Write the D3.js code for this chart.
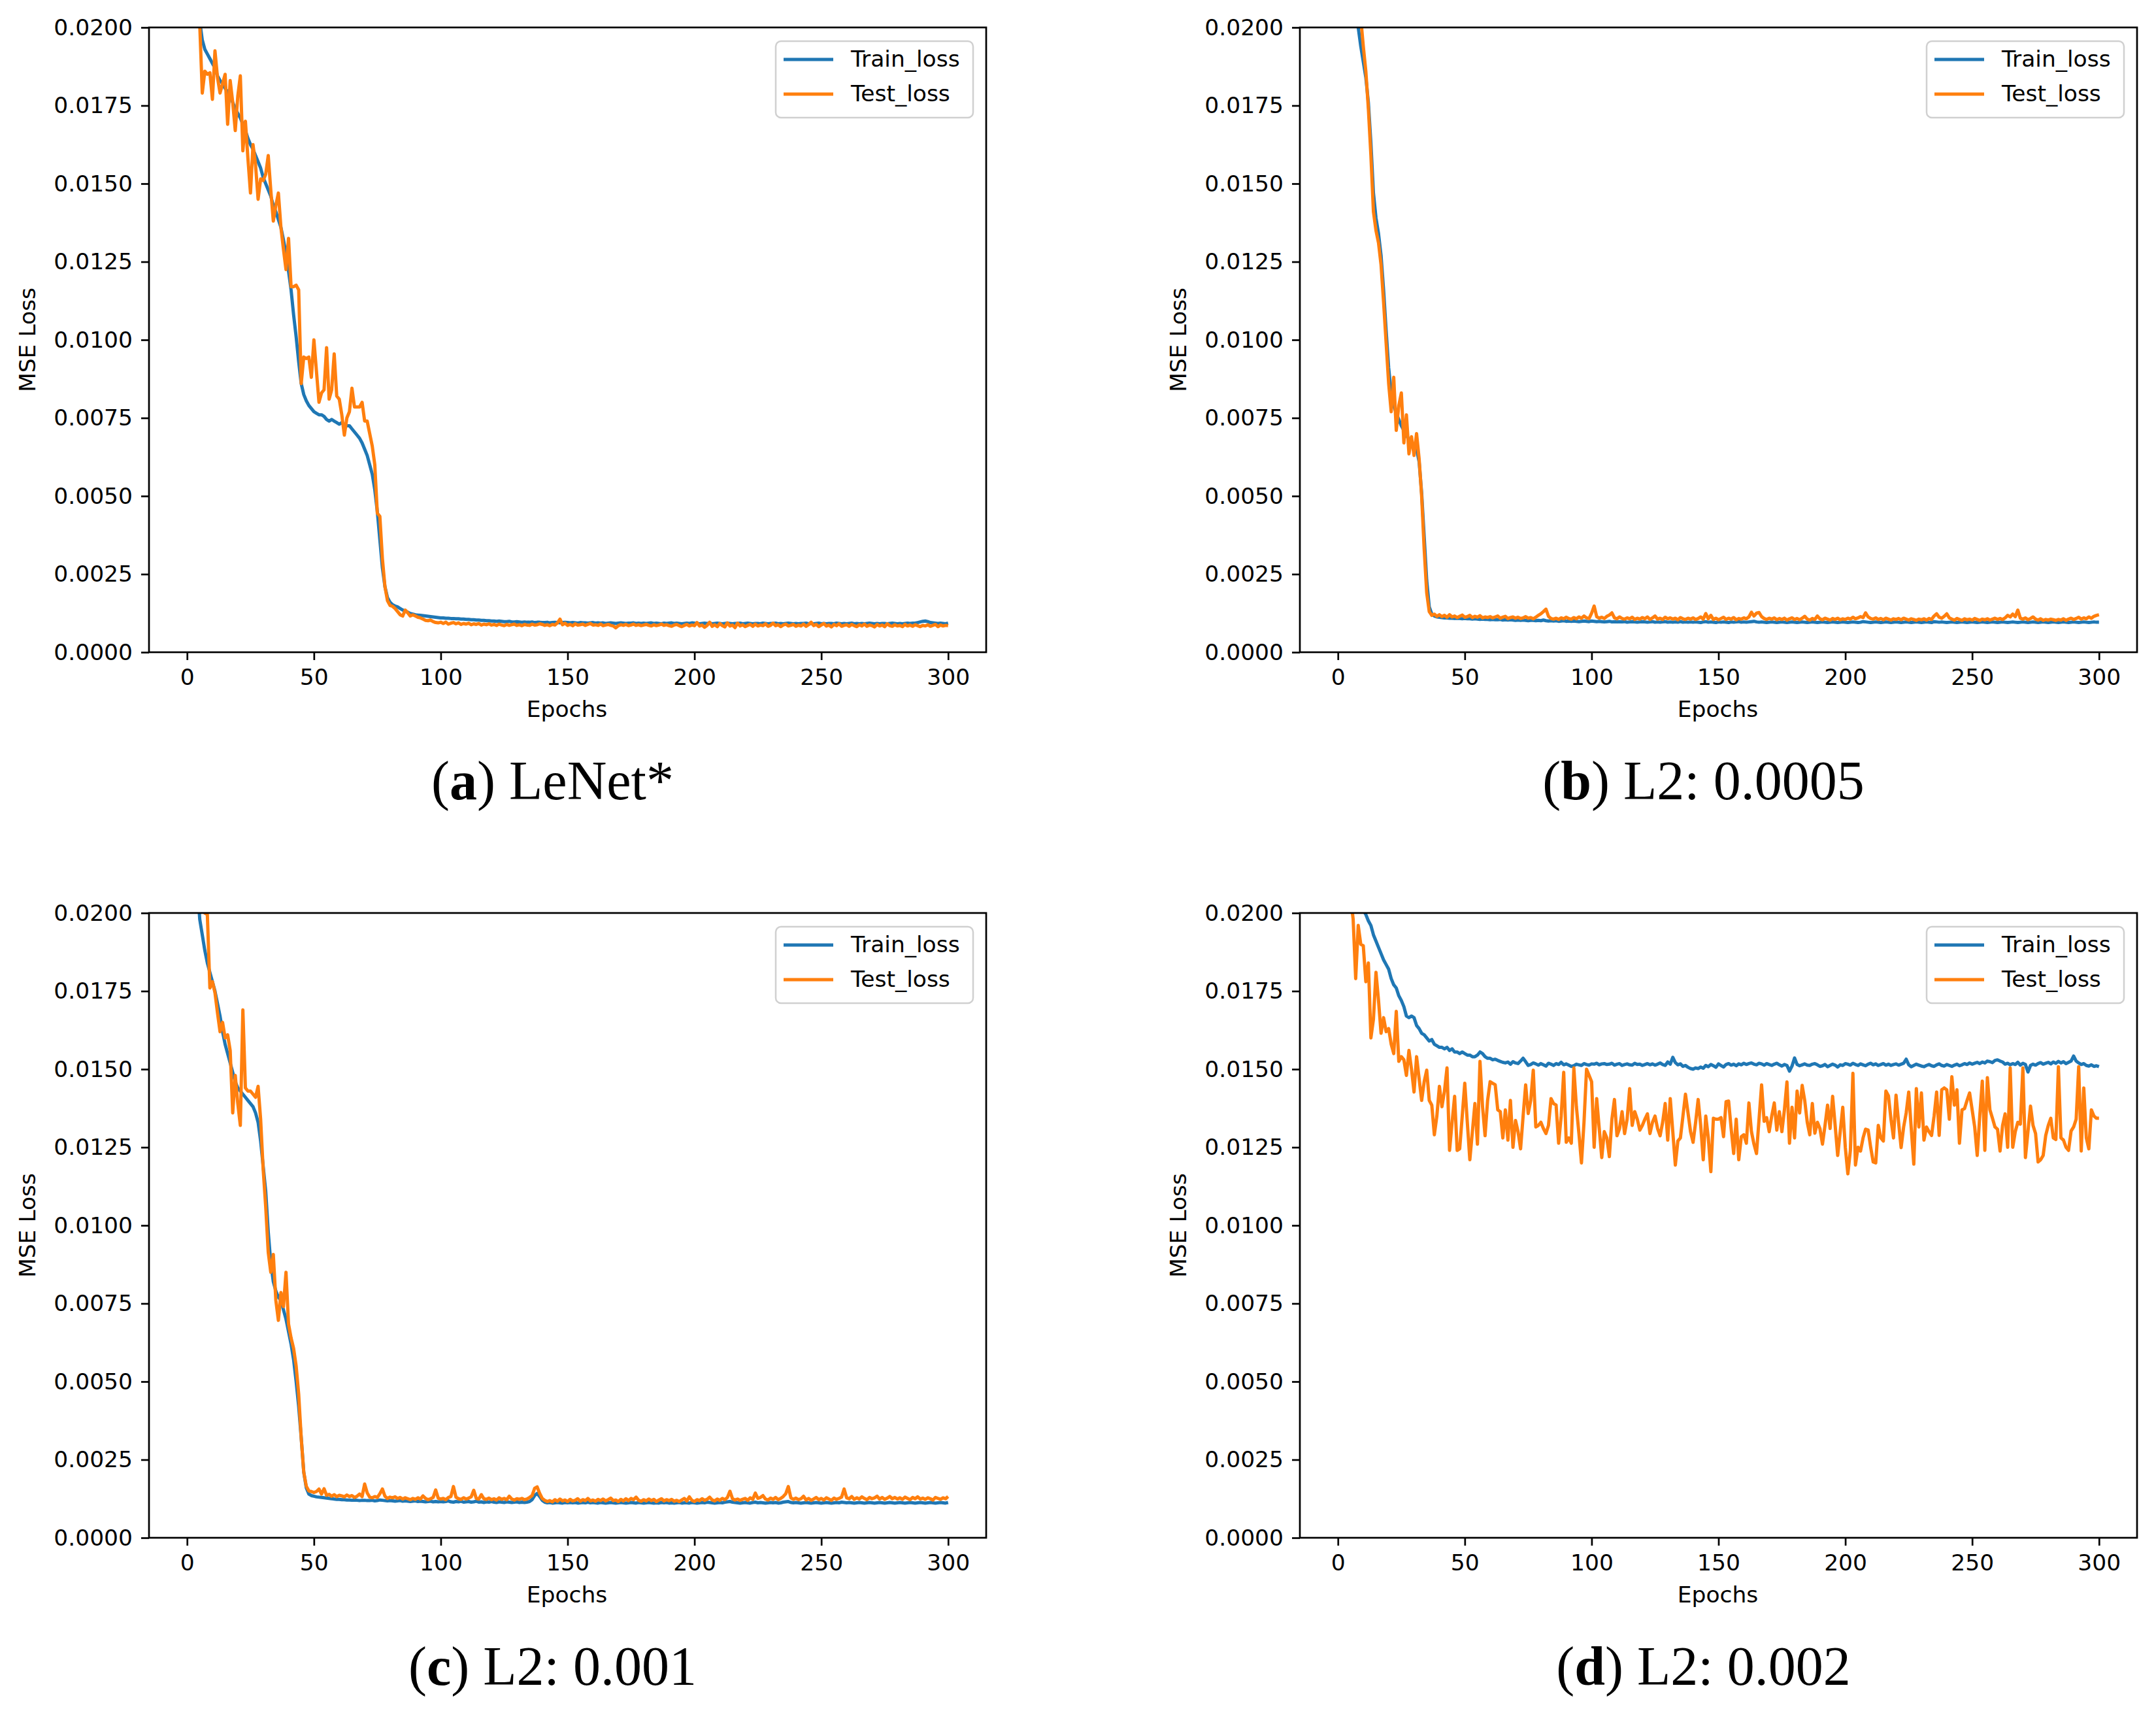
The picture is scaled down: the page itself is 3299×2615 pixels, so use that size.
<!DOCTYPE html>
<html>
<head>
<meta charset="utf-8">
<script src="https://cdn.jsdelivr.net/npm/d3@7"></script>
<style>
  body { margin: 0; background: #ffffff; }
  svg { display: block; }
</style>
</head>
<body>
<div id="chart"></div>
<script>
// Loss per epoch (epochs 1..300), values in units of 1e-4 (MSE)
const trainA = [
  290, 255, 232, 215, 202, 196, 193, 191.5, 190, 188.5,
  187, 184.5, 183, 182, 180.5, 179.5, 178, 176, 174, 172.5,
  171, 169, 167, 164.5, 162.5, 161, 159, 157, 155, 152,
  150, 148, 146, 143, 141, 138.5, 136, 132, 127.5, 122,
  116, 108, 101, 93, 86, 82.5, 80.5, 79, 78, 77,
  76.5, 76, 76, 75.5, 74.5, 74, 74.5, 74, 73.5, 73,
  73.5, 73, 72.5, 72.5, 71.5, 70.5, 69.5, 68.5, 67, 65,
  63, 60, 57, 52, 45, 36, 27, 21, 17.5, 16,
  15.2, 14.8, 14.5, 14, 13.5, 13.2, 12.8, 12.4, 12.2, 12,
  11.9, 11.8, 11.7, 11.6, 11.5, 11.4, 11.3, 11.2, 11.1, 11,
  11.0, 10.9, 10.9, 10.8, 10.8, 10.7, 10.7, 10.6, 10.6, 10.5,
  10.5, 10.4, 10.4, 10.3, 10.3, 10.2, 10.2, 10.1, 10.1, 10.0,
  10.0, 9.9, 10.0, 9.9, 9.8, 9.8, 9.9, 9.7, 9.7, 9.8,
  9.7, 9.6, 9.7, 9.6, 9.6, 9.7, 9.5, 9.6, 9.6, 9.5,
  9.5, 9.6, 9.4, 9.5, 9.6, 9.5, 9.4, 9.5, 9.6, 9.5,
  9.4, 9.5, 9.4, 9.3, 9.5, 9.4, 9.4, 9.3, 9.4, 9.5,
  9.3, 9.4, 9.3, 9.4, 9.2, 9.3, 9.4, 9.3, 9.2, 9.3,
  9.4, 9.3, 9.2, 9.3, 9.3, 9.4, 9.2, 9.3, 9.2, 9.3,
  9.2, 9.3, 9.4, 9.2, 9.3, 9.2, 9.1, 9.3, 9.2, 9.3,
  9.4, 9.2, 9.3, 9.2, 9.1, 9.2, 9.3, 9.2, 9.4, 9.3,
  9.2, 9.1, 9.2, 9.3, 9.2, 9.3, 9.1, 9.2, 9.3, 9.2,
  9.1, 9.2, 9.3, 9.2, 9.1, 9.2, 9.2, 9.3, 9.1, 9.2,
  9.3, 9.2, 9.1, 9.2, 9.2, 9.1, 9.3, 9.2, 9.1, 9.2,
  9.2, 9.3, 9.1, 9.2, 9.1, 9.2, 9.3, 9.2, 9.1, 9.2,
  9.1, 9.2, 9.2, 9.3, 9.1, 9.2, 9.1, 9.2, 9.3, 9.1,
  9.2, 9.1, 9.2, 9.2, 9.1, 9.3, 9.2, 9.1, 9.2, 9.1,
  9.2, 9.3, 9.1, 9.2, 9.1, 9.2, 9.1, 9.2, 9.3, 9.2,
  9.1, 9.2, 9.1, 9.2, 9.2, 9.1, 9.2, 9.3, 9.2, 9.1,
  9.2, 9.1, 9.2, 9.3, 9.2, 9.3, 9.3, 9.5, 9.7, 9.9,
  10.0, 9.8, 9.5, 9.4, 9.3, 9.2, 9.3, 9.2, 9.1, 9.3
];
const testA = [
  300, 260, 230, 210, 201, 179, 186, 185, 185.5, 177,
  192.5, 184, 179, 182, 185, 169, 183, 176, 167, 178,
  184.5, 160.5, 170, 158, 147, 162.5, 156, 145, 151.5, 151,
  153, 159, 148, 138, 143, 147, 136, 129, 122.5, 132.5,
  117, 117, 117.5, 116, 86, 94.5, 94, 94.5, 88, 100,
  90, 80, 83, 84, 97.5, 81, 84, 95.5, 82, 81,
  76, 69.5, 75, 77, 84.5, 78.5, 78.5, 78.5, 80, 74,
  74, 70, 66, 60, 44.5, 43.5, 30, 21, 16.5, 15,
  14.7, 14, 13, 12, 11.6, 13.5, 12.6, 11.6, 12, 11.6,
  11.2, 11, 10.6, 10.2, 10.1, 10.3, 9.8, 9.5, 9.4, 9.6,
  9.2, 9.6, 9.0, 9.3, 9.5, 9.1, 9.4, 8.9, 9.2, 9.0,
  9.3, 8.8, 9.1, 8.9, 9.2, 8.7, 9.0, 8.8, 9.1, 8.7,
  8.9, 8.6, 9.0, 8.7, 8.5, 8.9, 8.6, 8.8, 9.0, 8.6,
  8.8, 8.5, 8.9, 8.7, 8.6, 9.0, 8.7, 8.8, 9.1, 8.9,
  8.6, 8.8, 8.5, 8.9, 8.7, 9.4, 10.6, 8.8, 9.3, 8.6,
  8.9, 8.5, 9.1, 8.7, 8.8, 9.0, 8.6, 8.9, 9.2, 8.7,
  8.8, 8.6, 9.0, 8.5, 8.7, 8.9, 8.6, 8.4, 7.8, 8.5,
  8.8, 8.6, 8.9, 8.5, 8.7, 9.0, 8.6, 8.8, 8.5, 8.7,
  8.9, 8.6, 8.4, 8.8, 8.5, 8.7, 9.0, 8.6, 8.8, 8.5,
  8.3, 8.7, 8.9, 8.5, 8.2, 8.6, 8.9, 8.4, 8.7, 8.5,
  9.5, 8.4, 8.7, 8.0, 8.6, 9.6, 8.3, 8.8, 8.2, 9.2,
  8.5, 8.1, 9.4, 8.4, 8.7, 7.9, 9.3, 8.4, 8.8, 8.2,
  8.6, 8.9, 8.3, 9.0, 8.4, 8.7, 8.5, 9.1, 8.3, 8.6,
  9.3, 8.5, 8.8, 8.2, 8.7, 9.0, 8.4, 8.6, 8.9, 8.3,
  8.7, 8.4, 9.0, 8.3, 8.8, 9.6, 8.5, 8.9, 8.2, 8.7,
  9.2, 8.4, 8.7, 8.1, 8.9, 8.5, 9.1, 8.3, 8.6, 8.8,
  8.3, 8.9, 8.5, 8.2, 8.8, 8.4, 9.0, 8.3, 8.7, 8.5,
  8.1, 8.9, 8.4, 8.7, 8.2, 9.1, 8.5, 8.3, 8.8, 8.4,
  8.6, 8.2, 8.9, 8.4, 8.7, 8.3, 8.8, 8.5, 8.2, 8.6,
  8.4, 8.8, 8.3, 8.6, 8.9, 8.2, 8.7, 8.4, 8.6, 8.5
];
const trainB = [
  400, 340, 290, 255, 230, 215, 206, 200, 194, 189,
  184, 176, 163, 147, 139, 134, 127, 116, 103, 91,
  83, 79, 76.5, 74.5, 72.5, 71, 69.5, 68, 67, 66,
  65, 61, 51, 37, 23, 14.5, 12.2, 11.6, 11.3, 11.2,
  11.1, 11.0, 11.0, 10.9, 10.9, 10.8, 10.9, 10.8, 10.7, 10.8,
  10.7, 10.7, 10.6, 10.7, 10.6, 10.5, 10.6, 10.5, 10.5, 10.4,
  10.5, 10.4, 10.4, 10.5, 10.3, 10.4, 10.3, 10.4, 10.3, 10.2,
  10.3, 10.2, 10.3, 10.2, 10.1, 10.2, 10.2, 10.1, 10.2, 10.1,
  10.3, 10.1, 10.0, 10.1, 10.0, 10.1, 9.9, 10.0, 10.1, 9.9,
  10.0, 9.9, 10.0, 9.9, 9.8, 9.9, 10.0, 9.9, 9.8, 10.0,
  9.9, 9.8, 9.9, 9.8, 9.7, 9.8, 9.9, 9.7, 9.8, 9.7,
  9.8, 9.7, 9.8, 9.6, 9.7, 9.8, 9.7, 9.6, 9.7, 9.8,
  9.7, 9.6, 9.7, 9.8, 9.6, 9.7, 9.6, 9.7, 9.8, 9.6,
  9.7, 9.6, 9.7, 9.6, 9.8, 9.6, 9.7, 9.6, 9.7, 9.6,
  9.7, 9.6, 9.5, 9.7, 9.8, 9.6, 9.7, 9.6, 9.5, 9.7,
  9.6, 9.7, 9.6, 9.5, 9.7, 9.6, 9.7, 9.8, 9.6, 9.7,
  9.6, 9.7, 9.8, 9.9, 9.7, 9.6, 9.7, 9.6, 9.5, 9.6,
  9.7, 9.6, 9.5, 9.6, 9.7, 9.6, 9.5, 9.6, 9.7, 9.6,
  9.5, 9.6, 9.7, 9.6, 9.5, 9.6, 9.7, 9.6, 9.5, 9.6,
  9.7, 9.6, 9.5, 9.6, 9.7, 9.6, 9.5, 9.6, 9.7, 9.6,
  9.5, 9.6, 9.7, 9.6, 9.5, 9.6, 9.8, 9.7, 9.6, 9.5,
  9.6, 9.7, 9.6, 9.5, 9.6, 9.7, 9.6, 9.5, 9.6, 9.7,
  9.6, 9.5, 9.6, 9.7, 9.6, 9.5, 9.6, 9.7, 9.6, 9.5,
  9.6, 9.7, 9.6, 9.5, 9.8, 9.7, 9.6, 9.7, 9.6, 9.5,
  9.6, 9.7, 9.6, 9.5, 9.6, 9.7, 9.6, 9.5, 9.6, 9.7,
  9.6, 9.5, 9.6, 9.7, 9.6, 9.5, 9.6, 9.7, 9.6, 9.5,
  9.6, 9.7, 9.6, 9.5, 9.6, 9.7, 9.6, 9.5, 9.6, 9.7,
  9.6, 9.5, 9.6, 9.7, 9.6, 9.5, 9.6, 9.7, 9.6, 9.5,
  9.6, 9.7, 9.6, 9.5, 9.6, 9.7, 9.6, 9.5, 9.6, 9.7,
  9.6, 9.5, 9.6, 9.7, 9.6, 9.5, 9.6, 9.7, 9.6, 9.6
];
const testB = [
  450, 380, 320, 280, 255, 238, 225, 214, 203, 194,
  186, 174, 159, 141, 135, 131, 124, 112, 99, 86,
  77, 88, 71, 79, 83, 67, 76, 63.5, 69, 63,
  70, 62, 50, 33, 19, 13, 11.8, 12.2, 11.5, 12,
  11.4, 11.8, 11.2, 12.0, 11.3, 11.6, 11.1, 11.5, 11.9, 11.2,
  11.4, 11.8, 11.1, 11.5, 11.2, 11.7, 11.0, 11.3, 11.1, 11.4,
  11.0, 11.3, 11.6, 10.9, 11.2, 11.5, 10.8, 11.1, 11.3, 10.9,
  11.2, 10.8, 11.0, 11.4, 10.9, 11.1, 10.7, 11.2, 11.8, 12.3,
  13.0, 13.8, 11.5, 10.8, 10.6, 10.9, 10.5, 11.0, 10.7, 11.2,
  10.8, 10.6, 11.1, 10.7, 11.3, 10.9, 11.6, 11.0, 10.8, 12.5,
  14.8, 11.4, 10.9, 11.2, 10.8, 11.5, 11.9, 12.6, 11.0, 10.7,
  11.3, 10.8, 10.6, 11.0, 10.7, 11.2, 10.5, 10.9, 10.6, 11.1,
  10.7, 11.3, 10.5, 11.0, 11.6, 10.6, 10.9, 10.5, 11.2, 10.7,
  11.0, 10.6, 10.9, 10.4, 11.1, 10.7, 10.5, 10.9, 10.6, 11.0,
  10.5, 10.8, 11.3, 10.6, 12.4, 10.7, 11.8, 10.5, 10.9, 10.4,
  10.8, 11.2, 10.5, 10.9, 10.6, 11.1, 10.4, 10.8, 10.6, 11.0,
  10.7, 11.3, 12.8, 11.6, 12.5, 12.7, 11.4, 10.8, 10.5, 10.9,
  10.6, 11.0, 10.4, 10.8, 10.5, 10.9, 10.3, 10.7, 11.0, 10.5,
  10.8, 10.4, 10.9, 11.5, 10.6, 10.3, 10.8, 10.5, 11.6, 10.7,
  10.4, 10.9, 10.6, 10.3, 10.8, 10.5, 10.9, 10.4, 10.7, 10.5,
  10.9, 10.6, 11.2, 10.7, 11.0, 11.4, 11.1, 12.6, 11.3, 10.8,
  10.6, 11.0, 10.5, 10.8, 10.4, 10.9, 10.6, 10.3, 10.7, 10.5,
  10.8, 10.4, 10.9, 10.6, 10.3, 10.7, 10.5, 10.2, 10.6, 10.4,
  10.7, 10.3, 10.8, 10.5, 11.6, 12.3, 11.2, 10.9, 11.5, 12.3,
  11.0, 10.6, 10.3, 10.8, 10.5, 10.2, 10.7, 10.4, 10.6, 10.3,
  10.8, 10.5, 10.2, 10.6, 10.4, 10.7, 10.3, 10.6, 10.9, 10.5,
  10.8, 10.5, 11.0, 11.8, 11.3, 12.2, 11.4, 13.5, 10.9, 10.6,
  11.0, 10.4, 10.8, 11.3, 10.6, 10.3, 10.7, 10.2, 10.5, 10.3,
  10.6, 10.4, 10.2, 10.5, 10.3, 10.7, 10.2, 10.6, 10.9, 10.5,
  10.8, 11.2, 10.6, 11.0, 10.7, 11.3, 10.9, 11.5, 11.8, 12.0
];
const trainC = [
  300, 260, 230, 210, 198, 193, 188, 184, 181, 178,
  175, 171, 167, 162, 158, 155, 152, 149, 146, 144,
  143, 142, 141, 140, 139, 138, 136, 133, 127, 119,
  111, 98, 88, 82, 79, 77, 76, 73, 70, 66,
  62, 57, 50, 42, 32, 21, 16, 14, 13.5, 13.3,
  13.1, 13.0, 12.9, 12.8, 12.7, 12.6, 12.5, 12.4, 12.3, 12.3,
  12.2, 12.2, 12.1, 12.1, 12.0, 12.1, 12.0, 11.9, 12.0, 12.0,
  11.9, 11.9, 12.0, 11.8, 11.9, 12.1, 12.0, 11.9, 11.8, 11.9,
  11.8, 11.7, 11.8, 11.9, 11.7, 11.8, 11.7, 11.6, 11.7, 11.8,
  11.6, 11.7, 11.6, 11.5, 11.6, 11.7, 11.5, 11.6, 11.5, 11.6,
  11.5, 11.6, 11.8, 11.5, 11.4, 11.6, 11.5, 11.7, 11.4, 11.5,
  11.6, 11.4, 11.5, 11.7, 11.4, 11.5, 11.3, 11.5, 11.4, 11.6,
  11.4, 11.3, 11.5, 11.4, 11.3, 11.5, 11.4, 11.3, 11.4, 11.5,
  11.3, 11.4, 11.3, 11.4, 11.6, 12.2, 13.5, 14.2, 13.2, 12.0,
  11.4, 11.2, 11.3, 11.1, 11.2, 11.3, 11.2, 11.1, 11.3, 11.2,
  11.3, 11.2, 11.3, 11.1, 11.2, 11.3, 11.2, 11.4, 11.2, 11.3,
  11.2, 11.1, 11.3, 11.2, 11.1, 11.2, 11.3, 11.2, 11.1, 11.2,
  11.3, 11.2, 11.1, 11.2, 11.3, 11.2, 11.1, 11.3, 11.2, 11.1,
  11.2, 11.3, 11.2, 11.1, 11.2, 11.1, 11.3, 11.2, 11.3, 11.1,
  11.2, 11.1, 11.2, 11.3, 11.1, 11.2, 11.2, 11.1, 11.3, 11.2,
  11.1, 11.2, 11.3, 11.2, 11.4, 11.3, 11.2, 11.1, 11.2, 11.3,
  11.2, 11.4, 11.5, 11.6, 11.4, 11.3, 11.2, 11.1, 11.2, 11.3,
  11.2, 11.1, 11.3, 11.4, 11.2, 11.3, 11.2, 11.1, 11.2, 11.3,
  11.2, 11.3, 11.1, 11.2, 11.4, 11.5, 11.6, 11.3, 11.2, 11.3,
  11.2, 11.1, 11.2, 11.3, 11.2, 11.1, 11.2, 11.3, 11.2, 11.1,
  11.2, 11.3, 11.2, 11.1, 11.2, 11.3, 11.2, 11.4, 11.3, 11.2,
  11.3, 11.2, 11.1, 11.2, 11.3, 11.2, 11.1, 11.2, 11.3, 11.2,
  11.1, 11.2, 11.3, 11.2, 11.1, 11.2, 11.3, 11.2, 11.1, 11.2,
  11.3, 11.2, 11.1, 11.2, 11.3, 11.2, 11.1, 11.2, 11.3, 11.2,
  11.1, 11.2, 11.3, 11.2, 11.1, 11.2, 11.3, 11.2, 11.1, 11.3
];
const testC = [
  330, 290, 250, 225, 210, 201, 200, 199.5, 176, 178,
  174.5, 168, 162, 165, 160, 161, 156, 136, 148, 139,
  132, 169, 144, 143, 143, 142, 141, 144.5, 134, 118,
  106, 91.4, 85, 90.7, 76, 69.6, 78.5, 74, 85, 68.4,
  64, 60.6, 55, 46, 32, 21, 16.5, 15, 14.8, 14.5,
  14.8, 15.6, 14.0, 15.7, 13.6, 13.9, 13.3, 13.8, 13.2, 13.6,
  13.4, 13.1, 13.7, 13.2, 13.5, 12.9, 13.3, 14.0, 13.2, 17.2,
  14.4, 13.0, 12.8, 13.2, 12.9, 14.1, 15.6, 13.3, 12.6, 13.0,
  12.8, 13.1, 12.6, 12.9, 12.4, 12.8, 12.5, 12.2, 12.6, 12.3,
  12.8, 12.4, 13.4, 12.6, 12.2, 12.5, 12.9, 15.3, 12.7, 12.4,
  12.6, 12.2, 12.9, 13.2, 16.4, 13.0, 12.5, 12.3, 12.8, 12.4,
  12.7, 13.1, 15.2, 12.6, 12.4, 13.8, 12.5, 12.3, 12.7, 12.2,
  12.5, 12.1, 12.8, 12.3, 12.6, 12.2, 13.3, 12.4, 12.1, 12.5,
  12.3, 12.6, 12.2, 12.4, 12.9, 13.5, 15.8, 16.3, 14.2, 12.6,
  12.0, 11.6, 11.9, 11.5, 12.2, 11.7, 12.4, 11.8, 12.1, 11.6,
  12.3, 11.8, 12.0, 12.5, 11.7, 12.2, 11.9, 12.6, 11.8, 12.1,
  11.7, 12.3, 11.9, 12.4, 11.8, 12.2, 12.7, 11.9, 12.1, 11.6,
  12.3, 11.8, 12.5, 11.9, 12.6, 12.2, 13.0, 12.0, 11.7, 12.2,
  11.8, 12.4, 11.9, 12.3, 11.6, 12.1, 12.5, 11.8, 12.2, 11.9,
  12.3, 11.7, 12.0, 11.6, 12.1, 12.6, 11.8, 13.1, 12.0, 11.6,
  12.2, 11.9, 12.5, 12.0, 12.3, 13.0, 12.1, 11.8, 12.4, 12.0,
  12.6, 12.2, 12.9, 14.9, 12.5, 12.1, 12.4, 12.0, 12.3, 12.6,
  12.0, 12.8, 12.3, 14.3, 12.6, 12.9, 13.5, 12.4, 12.1, 12.7,
  12.3, 12.9, 12.2, 12.6, 13.2, 14.1, 16.4, 12.8, 12.3, 12.7,
  12.2, 12.5, 13.3, 12.1, 12.6, 12.0, 12.4, 12.9, 12.2, 12.6,
  12.1, 12.8, 12.4, 12.0, 12.7, 12.3, 12.6, 13.0, 15.6, 12.8,
  12.5, 13.2, 12.3, 12.8, 12.4, 13.1, 12.6, 12.2, 12.9, 12.5,
  12.8, 13.3, 12.4, 12.9, 12.3, 12.7, 13.2, 12.5, 12.9, 12.4,
  12.8, 12.3, 13.0, 12.6, 12.2, 12.9, 12.5, 13.1, 12.4, 12.7,
  12.3, 12.8, 12.5, 12.1, 12.9, 12.6, 12.3, 12.8, 12.5, 13.2
];
const trainD = [
  400, 330, 290, 260, 240, 228, 218, 210, 205, 201,
  199.5, 197.5, 196, 193, 191, 189, 187, 185, 183.5, 182,
  179, 177, 176, 173.5, 172, 170, 167, 166.5, 167, 166.5,
  164, 163, 161.5, 161, 160, 159, 159.5, 158, 157.5, 157,
  157, 156.5, 157, 156, 156.5, 155.5, 155.5, 155, 155.5, 155,
  154.5, 154.5, 154, 154, 154.5, 155.5, 155, 154, 153.5, 153.5,
  153, 153.2, 152.8, 152.5, 152.2, 152, 152.3, 151.6, 152.4, 152,
  151.8, 152.6, 153.5, 152.4, 151.2, 151.5, 152, 151.7, 151.3, 151.8,
  151.4, 151, 151.9, 151.6, 151.2, 151.8, 151.5, 152.2, 151.4, 151.7,
  151.3, 150.9, 151.1, 151.6, 151.4, 151.2, 151.8, 151.5, 151.3, 151.7,
  151.6, 151.9, 151.4, 151.7, 151.8, 151.5, 151.6, 151.9, 151.3, 151.6,
  151.8, 151.2, 151.5, 151.7, 151.4, 151.3, 151.9, 151.5, 151.6, 151.2,
  151.5, 151.8, 151.4, 151.7, 151.3, 151.6, 152.0, 151.5, 151.2, 152.3,
  151.6, 153.8, 152.1, 151.4, 151.7, 150.9, 151.2, 150.6, 150.2, 150.0,
  150.4, 150.2, 150.7, 150.3, 151.2, 150.8, 151.5, 151.1, 150.6, 151.7,
  151.2, 150.7, 151.5, 151.8, 151.3, 151.6, 151.1, 151.7, 151.4, 151.9,
  151.5, 151.8, 152.0, 151.6, 151.4, 151.9, 151.7, 151.3, 151.8, 151.5,
  151.2, 151.6, 151.9, 151.4, 151.0, 151.5, 151.2, 149.4, 151.0, 153.6,
  151.5, 151.1, 151.4, 151.7, 151.3, 151.2, 151.6, 151.8, 151.4, 150.9,
  151.1, 151.5, 150.8, 151.2, 151.6, 151.3, 150.7, 151.4, 151.2, 151.8,
  151.6, 151.3, 151.9, 151.5, 151.2, 151.7, 151.4, 151.1, 151.6, 151.9,
  151.4, 151.7, 151.2, 151.5, 151.8, 151.3, 151.6, 151.2, 151.5, 151.7,
  151.3, 151.6, 151.9, 153.2, 151.4, 150.8, 151.2, 151.6, 151.3, 151.0,
  150.8, 151.2, 151.5, 151.1, 150.9, 151.4, 151.7, 151.2, 151.0, 151.5,
  151.2, 150.9, 151.3, 151.6, 151.1, 151.4, 151.8, 151.5, 152.0, 151.6,
  151.9, 152.2, 151.8, 152.3, 152.0, 152.6, 152.4, 152.1, 152.8, 153.0,
  152.6, 152.3, 151.6, 151.9, 151.4, 151.8, 151.5, 152.2, 151.3, 151.9,
  151.5, 149.1, 151.2, 151.6, 151.3, 151.8, 152.1, 151.6, 151.9, 152.2,
  151.7, 152.3, 151.9, 152.5, 152.0, 152.4, 151.8, 152.2, 152.6, 154.2,
  152.6, 152.0, 151.5, 151.8, 151.2, 151.0, 151.4, 150.9, 151.1, 150.8
];
const testD = [
  330, 280, 245, 220, 205, 198, 179, 196, 190, 189.5,
  178, 184, 160, 166, 181, 172, 161.5, 166.5, 162, 163,
  158, 155, 168.5, 152.5, 154, 153, 148, 156, 150, 142.7,
  154, 147, 140, 146, 149.7, 140, 138.5, 129, 135, 144.5,
  138, 143, 150.4, 124, 133, 141.3, 124, 124.5, 135, 145.5,
  133, 121, 130, 139, 126, 152.5, 138, 128.7, 140, 146,
  145.5, 145, 137, 136.4, 128, 137, 127.3, 140, 125, 133.6,
  130, 124.5, 135, 145, 135.8, 140, 149.7, 131.5, 132, 133,
  131, 129.4, 132, 140.6, 139, 138.5, 126.3, 135, 149, 126.6,
  128, 126.3, 150.4, 138, 129.4, 120, 133, 150, 148, 146,
  125, 140.6, 131, 121.7, 130, 128, 122, 134, 140.3, 128.7,
  131, 136.4, 129.4, 134, 143.8, 132, 136.4, 134, 130.5, 132,
  134, 135.7, 129.4, 133, 135, 131, 128.7, 133, 139, 127.3,
  140.6, 130, 119.3, 127, 128, 135, 142, 136, 130, 126.6,
  133, 140.3, 132, 121, 135, 128, 117.2, 134.3, 134, 134,
  134.5, 128.4, 139.6, 139.8, 131, 123, 134, 121, 128.4, 129,
  126.3, 139.2, 130, 126, 123, 134, 145, 133.3, 134.5, 130,
  135, 139.2, 130.5, 136.4, 130, 137, 145.9, 126.3, 137.8, 128,
  143, 136, 144.8, 140, 133, 129, 139, 129.5, 133, 131,
  126, 132, 138.5, 131, 141.3, 132, 122.4, 130, 137.8, 125,
  116.5, 124, 148.7, 119.3, 125, 123.8, 128, 130.8, 130.5, 125,
  120.3, 120, 132, 128, 127, 143, 141.5, 134, 128, 141.7,
  133, 124.9, 131.5, 136, 142.7, 131, 119.6, 143.8, 131.5, 142.4,
  127.3, 131.5, 130, 128.8, 135, 142.7, 128.8, 143.4, 144, 143.4,
  134, 147.6, 138.5, 143.4, 126.3, 137, 137.4, 140, 142.4, 137,
  131.5, 122.4, 135, 146.2, 124, 147.3, 137, 134.3, 131.5, 130.8,
  123.8, 132, 135.7, 125, 150.4, 125, 130, 133, 132.4, 150.4,
  121.7, 130, 138.2, 132, 129.4, 120.3, 121, 122.4, 128.8, 132,
  134.3, 128, 127.5, 150.8, 128, 127.3, 125, 124, 130.2, 131.5,
  134, 150.8, 123.8, 144, 128, 124.5, 137, 135, 134.3, 134.3
];

const xTicks = [0, 50, 100, 150, 200, 250, 300];
const yTicks = [0, 0.0025, 0.005, 0.0075, 0.01, 0.0125, 0.015, 0.0175, 0.02];
const seriesNames = ["Train_loss", "Test_loss"];
const seriesColors = ["#1f77b4", "#ff7f0e"];
const letters = ["a", "b", "c", "d"];
const captions = ["LeNet*", "L2: 0.0005", "L2: 0.001", "L2: 0.002"];

// panels built from the arrays above
const panels = [
  { train: trainA, test: testA },
  { train: trainB, test: testB },
  { train: trainC, test: testC },
  { train: trainD, test: testD }
];

const W = 3299, H = 2615;
const pw = 1281, ph = 956;
const lefts = [228, 1989];
const tops = [42, 1397];
const sans = "'DejaVu Sans', sans-serif";
const fs = "34.5px";

var svg = d3.select("#chart")
    .append("svg")
    .attr("width", W)
    .attr("height", H)
    .style("background", "#ffffff");

panels.forEach(function(p, i) {
    var col = i % 2, row = Math.floor(i / 2);
    var g = svg.append("g")
        .attr("transform", `translate(${lefts[col]}, ${tops[row]})`);

    var x = d3.scaleLinear().domain([-15, 315]).range([0, pw]);
    var y = d3.scaleLinear().domain([0, 0.02]).range([ph, 0]);

    // clip lines to the axes box
    g.append("clipPath")
        .attr("id", "clip" + i)
        .append("rect")
        .attr("width", pw)
        .attr("height", ph);

    var line = d3.line()
        .x((d, k) => x(k + 1))
        .y(d => y(d / 1e4));

    [p.train, p.test].forEach(function(vals, s) {
        g.append("path")
            .datum(vals)
            .attr("clip-path", `url(#clip${i})`)
            .attr("fill", "none")
            .attr("stroke", seriesColors[s])
            .attr("stroke-width", 5)
            .attr("stroke-linejoin", "round")
            .attr("stroke-linecap", "butt")
            .attr("d", line);
    });

    // x axis
    var gx = g.append("g")
        .attr("transform", `translate(0, ${ph})`)
        .call(d3.axisBottom(x).tickValues(xTicks).tickSize(12).tickPadding(14));
    // y axis
    var gy = g.append("g")
        .call(d3.axisLeft(y).tickValues(yTicks).tickSize(12).tickPadding(13)
            .tickFormat(d3.format(".4f")));

    [gx, gy].forEach(function(ax) {
        ax.select(".domain").remove();
        ax.selectAll("line").attr("stroke", "#000").attr("stroke-width", 2.7);
        ax.selectAll("text")
            .attr("fill", "#000")
            .style("font-family", sans)
            .style("font-size", fs);
    });

    // frame
    g.append("rect")
        .attr("width", pw)
        .attr("height", ph)
        .attr("fill", "none")
        .attr("stroke", "#000")
        .attr("stroke-width", 2.7);

    // axis labels
    g.append("text")
        .attr("x", pw / 2 - 1)
        .attr("y", ph + 99)
        .attr("text-anchor", "middle")
        .style("font-family", sans)
        .style("font-size", fs)
        .text("Epochs");

    g.append("text")
        .attr("transform", "rotate(-90)")
        .attr("x", -ph / 2)
        .attr("y", -174)
        .attr("text-anchor", "middle")
        .style("font-family", sans)
        .style("font-size", fs)
        .text("MSE Loss");

    // legend
    var lg = g.append("g").attr("transform", `translate(${pw - 322}, 21)`);
    lg.append("rect")
        .attr("width", 302)
        .attr("height", 117)
        .attr("rx", 8)
        .attr("fill", "#ffffff")
        .attr("fill-opacity", 0.8)
        .attr("stroke", "#d0d0d0")
        .attr("stroke-width", 2.5);
    seriesNames.forEach(function(name, s) {
        lg.append("line")
            .attr("x1", 12).attr("x2", 88)
            .attr("y1", 28 + s * 53).attr("y2", 28 + s * 53)
            .attr("stroke", seriesColors[s])
            .attr("stroke-width", 5);
        lg.append("text")
            .attr("x", 115)
            .attr("y", 39 + s * 53)
            .style("font-family", sans)
            .style("font-size", fs)
            .text(name);
    });

    // caption under the panel
    var cap = g.append("text")
        .attr("x", pw / 2 - 23)
        .attr("y", 1181)
        .attr("text-anchor", "middle")
        .style("font-family", "'Liberation Serif', serif")
        .style("font-size", "84px");
    cap.append("tspan").text("(");
    cap.append("tspan").attr("font-weight", "bold").text(letters[i]);
    cap.append("tspan").text(") " + captions[i]);
});
</script>
</body>
</html>
